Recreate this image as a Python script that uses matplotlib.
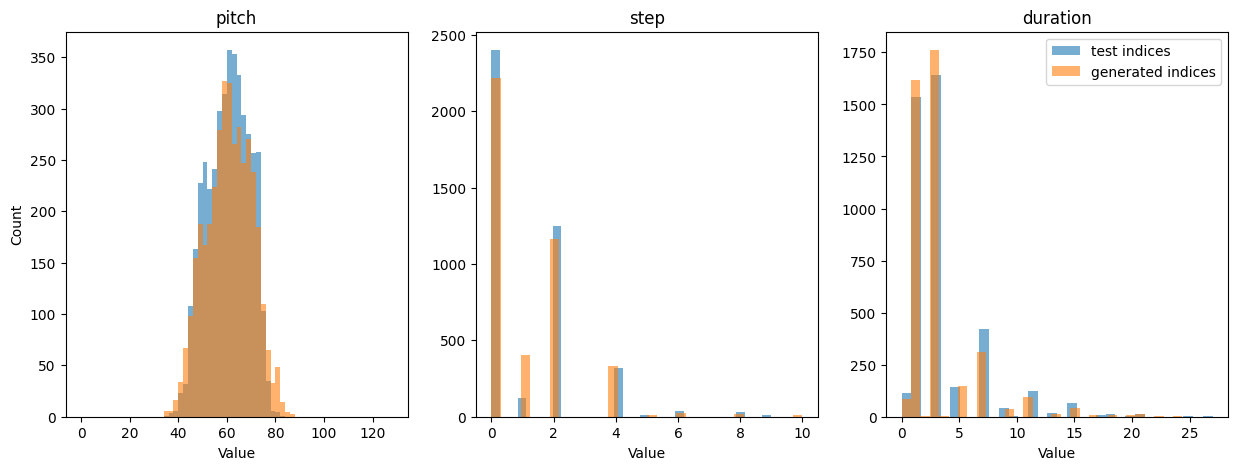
import matplotlib
matplotlib.use("Agg")
import matplotlib.pyplot as plt
import numpy as np

labels = ["test indices", "generated indices"]

# pitch: values (bin start, width 2) and counts
pitch_vals = [34, 36, 38, 40, 42, 44, 46, 48, 50, 52, 54, 56, 58, 60,
              62, 64, 66, 68, 70, 72, 74, 76, 78, 80, 82, 84, 86]
pitch_test = [1, 4, 6, 23, 32, 108, 163, 228, 248, 222, 241, 298, 314, 357,
              353, 333, 294, 275, 257, 258, 103, 35, 6, 5, 1, 0, 0]
pitch_gen = [6, 6, 16, 34, 67, 98, 155, 188, 167, 188, 224, 279, 327, 325,
             266, 282, 247, 270, 238, 185, 110, 65, 33, 48, 14, 5, 3]

# step
step_test_vals = [0, 1, 2, 4, 5, 6, 8, 9]
step_test = [2400, 120, 1250, 322, 9, 37, 28, 9]
step_gen_vals = [0, 1, 2, 4, 5, 6, 8, 10]
step_gen = [2217, 401, 1165, 335, 9, 22, 15, 9]

# duration
dur_test_vals = [0, 1, 3, 4.5, 7, 9, 10, 11.5, 13, 14.5, 17.5, 18, 20, 21, 25, 27]
dur_test = [115, 1536, 1641, 142, 423, 42, 3, 123, 18, 66, 8, 13, 3, 13, 3, 3]
dur_gen_vals = [0, 1, 2, 3, 4, 5, 7, 9, 11, 13.5, 15, 17, 18, 20, 21, 22.5, 24, 26]
dur_gen = [85, 1617, 3, 1761, 3, 147, 313, 37, 94, 13, 42, 8, 8, 8, 13, 3, 3, 1]


def main():
    plt.figure(figsize=[15, 5])

    # plot 1: pitch
    plt.subplot(1, 3, 1)
    plt.hist(pitch_vals, bins=64, range=(0, 128), weights=pitch_test, alpha=0.6, label=labels[0])
    plt.hist(pitch_vals, bins=64, range=(0, 128), weights=pitch_gen, alpha=0.6, label=labels[1])
    plt.title("pitch")
    plt.xlabel("Value")
    plt.ylabel("Count")

    # plot 2: step
    plt.subplot(1, 3, 2)
    plt.hist(step_test_vals, bins=32, weights=step_test, alpha=0.6, label=labels[0])
    plt.hist(step_gen_vals, bins=32, weights=step_gen, alpha=0.6, label=labels[1])
    plt.title("step")
    plt.xlabel("Value")

    # plot 3: duration
    plt.subplot(1, 3, 3)
    plt.hist(dur_test_vals, bins=32, weights=dur_test, alpha=0.6, label=labels[0])
    plt.hist(dur_gen_vals, bins=32, weights=dur_gen, alpha=0.6, label=labels[1])
    plt.title("duration")
    plt.xlabel("Value")
    plt.legend()

    plt.savefig("out.png", dpi=100, bbox_inches="tight")


if __name__ == '__main__':
    main()
